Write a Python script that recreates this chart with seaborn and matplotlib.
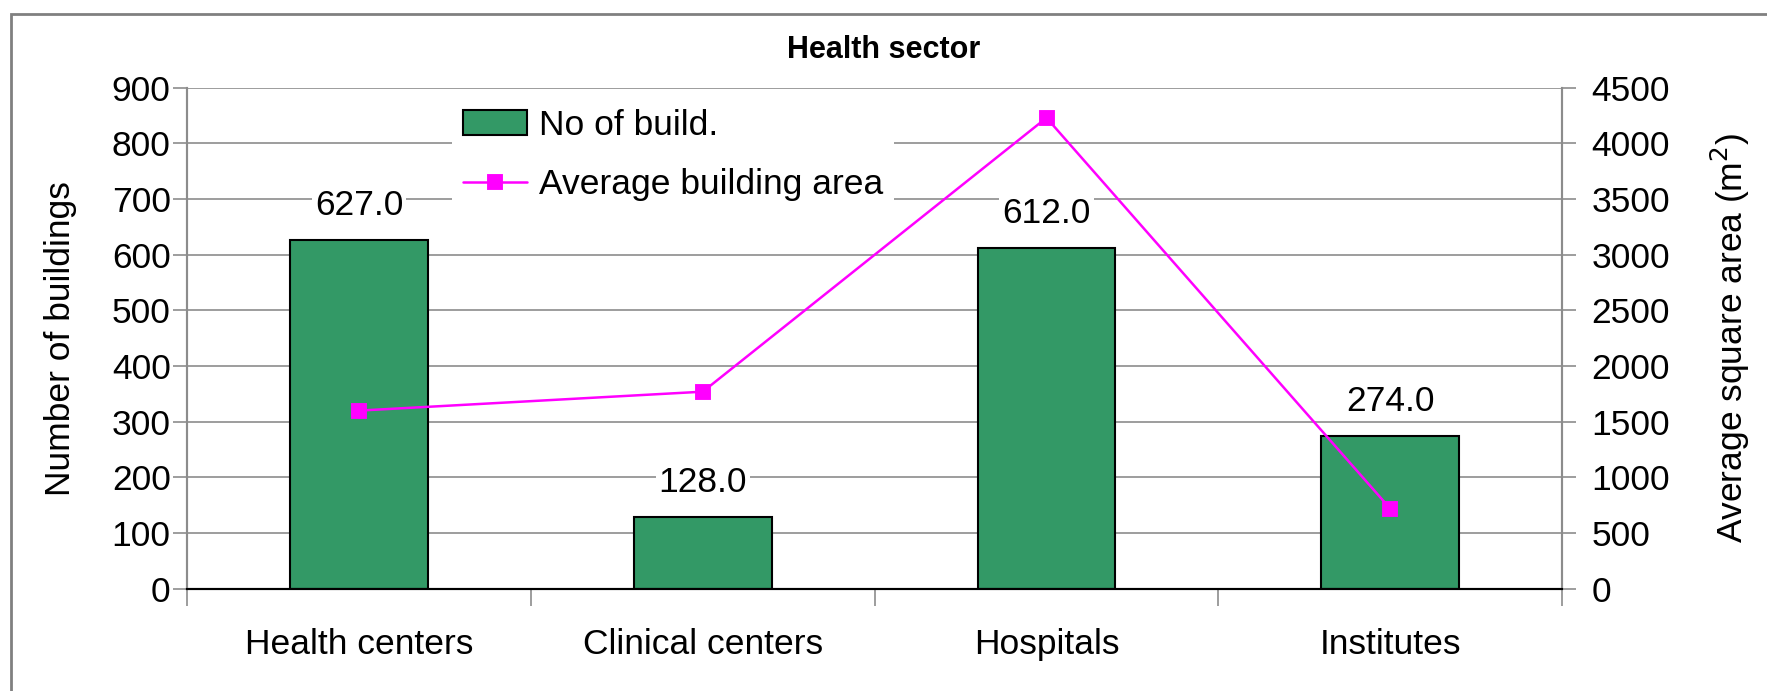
"""
Health sector: number of buildings and average building area
"""

import matplotlib
matplotlib.use('Agg')
import matplotlib.pyplot as plt
from matplotlib.patches import Rectangle
import seaborn as sns
import pandas as pd


# Chart data
categories = ['Health centers', 'Clinical centers', 'Hospitals', 'Institutes']
num_buildings = [627.0, 128.0, 612.0, 274.0]
avg_area = [1600, 1770, 4230, 720]
left_ticks = list(range(0, 901, 100))
right_ticks = list(range(0, 4501, 500))

# General plot parameters
sns.set_style('white')
plt.rcParams['font.family'] = ['Liberation Sans', 'DejaVu Sans']
plt.rcParams['text.color'] = 'black'
plt.rcParams['axes.labelcolor'] = 'black'
plt.rcParams['xtick.labelcolor'] = 'black'
plt.rcParams['ytick.labelcolor'] = 'black'
tick_size = 25.5
bar_color = '#339966'
line_color = '#FF00FF'
grid_color = '#8c8c8c'


def main():
    df = pd.DataFrame({'Category': categories,
                       'Buildings': num_buildings,
                       'Area': avg_area})

    fig = plt.figure(figsize=(17.67, 6.91), dpi=100)
    ax = fig.add_axes([0.106, 0.148, 0.778, 0.725])

    # Outer chart border
    fig.patches.append(Rectangle((0.006, -0.02), 1.0, 1.0, transform=fig.transFigure,
                                 fill=False, edgecolor='#808080', linewidth=2))

    # Bars
    sns.barplot(data=df, x='Category', y='Buildings', ax=ax, color=bar_color,
                saturation=1, width=0.4, edgecolor='black', linewidth=1.5,
                label='No of build.', zorder=2)
    ax.set_ylim(0, 900)
    ax.set_yticks(left_ticks)
    ax.yaxis.grid(True, color=grid_color, linewidth=1.2, zorder=0)
    ax.set_axisbelow(True)

    # Labels above bars
    for cont in ax.containers:
        labels = ax.bar_label(cont, fmt='%.1f', padding=13, fontsize=tick_size)
        for t in labels:
            t.set_bbox(dict(facecolor='white', edgecolor='none', pad=2))

    # Line on secondary axis
    ax2 = ax.twinx()
    sns.pointplot(data=df, x='Category', y='Area', ax=ax2, color=line_color,
                  markers='s', markersize=10, linewidth=1.8,
                  label='Average building area')
    ax2.set_ylim(0, 4500)
    ax2.set_yticks(right_ticks)
    ax2.set_xlim(-0.5, len(categories) - 0.5)

    # X-Axis: boundary ticks, labels at centres
    ax.set_xticks([i - 0.5 for i in range(len(categories) + 1)])
    ax.set_xticklabels([])
    ax.set_xticks(range(len(categories)), minor=True)
    ax.set_xticklabels(categories, minor=True, fontsize=tick_size)
    ax.tick_params(axis='x', which='major', length=12, width=1.2,
                   color=grid_color, direction='out', bottom=True)
    ax.tick_params(axis='x', which='minor', length=0, pad=28)
    ax.set_xlabel('')

    # Y-Axes
    ax.tick_params(axis='y', labelsize=tick_size, length=10, width=1.2,
                   color=grid_color, left=True, pad=2)
    ax2.tick_params(axis='y', labelsize=tick_size, length=10, width=1.2,
                    color=grid_color, right=True, pad=11)
    ax.set_ylabel('Number of buildings', fontsize=tick_size, labelpad=25)
    ax2.set_ylabel('Average square area (m$^2$)', fontsize=tick_size, labelpad=28)

    for a in (ax, ax2):
        a.spines['top'].set_visible(False)
        a.spines['left'].set_color(grid_color)
        a.spines['right'].set_color(grid_color)
        a.spines['bottom'].set_color('black')
        for s in ('left', 'right', 'bottom'):
            a.spines[s].set_linewidth(1.5)

    # Legend (drop the one seaborn put on the bar axes)
    h1, l1 = ax.get_legend_handles_labels()
    h2, l2 = ax2.get_legend_handles_labels()
    if ax.get_legend() is not None:
        ax.get_legend().remove()
    leg = ax2.legend(h1 + h2, l1 + l2, loc='upper left',
                     bbox_to_anchor=(0.18, 1.015), fontsize=tick_size,
                     frameon=True, fancybox=False, handlelength=1.8,
                     handletextpad=0.35, labelspacing=0.75, borderpad=0.3)
    leg.get_frame().set_facecolor('white')
    leg.get_frame().set_edgecolor('none')
    leg.get_frame().set_alpha(1)

    fig.suptitle('Health sector', fontsize=22, fontweight='bold', y=0.95)

    fig.savefig('out.png', dpi=100)


if __name__ == '__main__':
    main()
